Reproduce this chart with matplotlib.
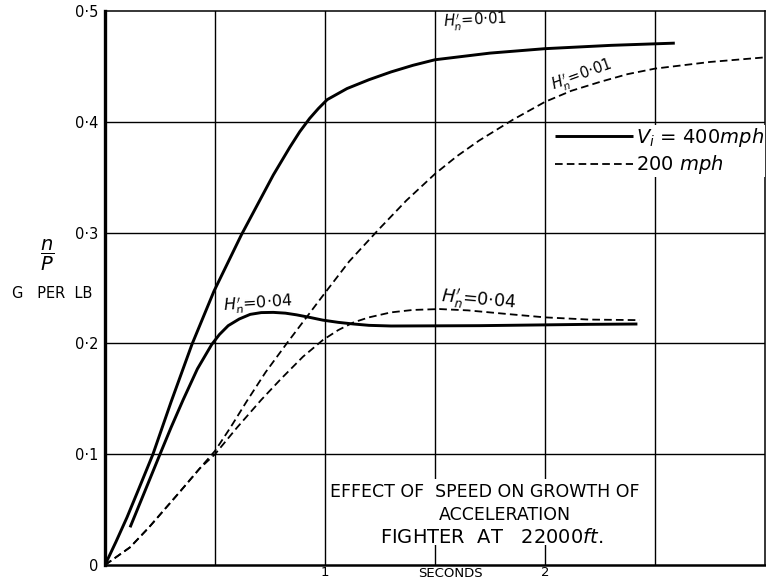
import matplotlib.pyplot as plt
from matplotlib.patches import Rectangle

plt.rcParams['font.family'] = 'DejaVu Sans'
plt.rcParams['mathtext.fontset'] = 'dejavusans'
plt.rcParams['lines.scale_dashes'] = False

# Vi = 400 mph, H'n = 0.01
t_400_01 = [0, 0.05, 0.1, 0.15, 0.218, 0.30, 0.395, 0.495, 0.62, 0.765, 0.84, 0.885, 0.93, 0.97, 1.01,
            1.1, 1.2, 1.3, 1.4, 1.5, 1.75, 2.0, 2.3, 2.59]
g_400_01 = [0, 0.021, 0.043, 0.067, 0.1, 0.147, 0.199, 0.247, 0.298, 0.352, 0.377, 0.391, 0.403, 0.412, 0.420,
            0.430, 0.438, 0.445, 0.451, 0.456, 0.462, 0.466, 0.469, 0.471]

# Vi = 400 mph, H'n = 0.04
t_400_04 = [0.114, 0.18, 0.25, 0.30, 0.355, 0.42, 0.485, 0.52, 0.56, 0.61, 0.66, 0.71, 0.765, 0.82,
            0.87, 0.93, 0.99, 1.06, 1.13, 1.2, 1.3, 1.7, 2.2, 2.42]
g_400_04 = [0.034, 0.066, 0.1, 0.124, 0.149, 0.177, 0.199, 0.208, 0.216, 0.222, 0.2262, 0.2278, 0.228, 0.2273,
            0.2258, 0.2235, 0.221, 0.219, 0.2175, 0.2163, 0.2157, 0.216, 0.2172, 0.2175]

# Vi = 200 mph, H'n = 0.01
t_200_01 = [0, 0.114, 0.2, 0.34, 0.43, 0.5, 0.57, 0.645, 0.73, 0.83, 0.91, 0.99, 1.11, 1.24, 1.37,
            1.5, 1.6, 1.7, 1.855, 2.0, 2.12, 2.25, 2.375, 2.5, 2.75, 2.99]
g_200_01 = [0, 0.016, 0.034, 0.066, 0.087, 0.103, 0.124, 0.148, 0.174, 0.201, 0.222, 0.243, 0.274, 0.302, 0.329,
            0.353, 0.369, 0.383, 0.402, 0.418, 0.428, 0.436, 0.443, 0.448, 0.454, 0.458]

# Vi = 200 mph, H'n = 0.04
t_200_04 = [0, 0.114, 0.2, 0.34, 0.43, 0.5, 0.6, 0.71, 0.8, 0.9, 0.99, 1.06, 1.13, 1.2, 1.3, 1.4,
            1.52, 1.65, 1.83, 2.0, 2.2, 2.43]
g_200_04 = [0, 0.016, 0.034, 0.066, 0.087, 0.1, 0.124, 0.149, 0.168, 0.188, 0.203, 0.212, 0.219, 0.2235, 0.228, 0.2302,
            0.231, 0.2298, 0.2265, 0.2235, 0.2215, 0.221]

y_ticks = [0, 0.1, 0.2, 0.3, 0.4, 0.5]
y_tick_labels = ['0', '0·1', '0·2', '0·3', '0·4', '0·5']
x_ticks = [1, 2]
x_tick_labels = ['1', '2']
x_grid = [0.5, 1, 1.5, 2, 2.5]
y_grid = [0.1, 0.2, 0.3, 0.4]

fig = plt.figure(figsize=(7.66, 5.86), dpi=100)
ax = fig.add_axes([105 / 766, 21 / 586, 660 / 766, 554 / 586])
ax.set_xlim(0, 3)
ax.set_ylim(0, 0.5)

for x in x_grid:
    ax.axvline(x, color='black', lw=1.0, zorder=0.5)
for y in y_grid:
    ax.axhline(y, color='black', lw=1.0, zorder=0.5)

solid = dict(color='black', lw=2.1, solid_capstyle='butt', solid_joinstyle='round', zorder=3)
dashed = dict(color='black', lw=1.3, dashes=(5.5, 3), zorder=3)
l_fast, = ax.plot(t_400_01, g_400_01, **solid)
ax.plot(t_400_04, g_400_04, **solid)
l_slow, = ax.plot(t_200_01, g_200_01, **dashed)
ax.plot(t_200_04, g_200_04, **dashed)

# curve labels
ax.text(1.68, 0.490, r"$H_n^{\prime}$=0·01", fontsize=10.5, rotation=3, ha='center', va='center')
ax.text(2.17, 0.441, r"$H_n^{\prime}$=0·01", fontsize=10.5, rotation=20, ha='center', va='center')
ax.text(0.695, 0.236, r"$H_n^{\prime}$=0·04", fontsize=11.5, rotation=4, ha='center', va='center')
ax.text(1.70, 0.239, r"$H_n^{\prime}$=0·04", fontsize=12.5, rotation=-5, ha='center', va='center')

# title block
ax.add_patch(Rectangle((1.45, 0.018), 0.9, 0.06, facecolor='white', edgecolor='none', zorder=1))
ax.text(1.727, 0.066, "EFFECT OF  SPEED ON GROWTH OF", fontsize=12.5, ha='center', va='center', zorder=4)
ax.text(1.818, 0.045, "ACCELERATION", fontsize=12.5, ha='center', va='center', zorder=4)
ax.text(1.759, 0.025, r"FIGHTER  AT   22000$\mathit{ft.}$", fontsize=14, ha='center', va='center', zorder=4)

leg = ax.legend([l_fast, l_slow], [r"$V_i$ = 400$\mathit{mph}$", r"200 $\mathit{mph}$"],
                loc='upper right', bbox_to_anchor=(1.0, 0.795), frameon=True, fancybox=False,
                edgecolor='none', facecolor='white', framealpha=1, fontsize=14,
                handlelength=4.0, handletextpad=0.15, labelspacing=0.25,
                borderpad=0.05, borderaxespad=0)

ax.set_yticks(y_ticks)
ax.set_yticklabels(y_tick_labels, fontsize=10.5)
ax.set_xticks(x_ticks)
ax.set_xticklabels(x_tick_labels, fontsize=9.5)
ax.tick_params(axis='y', length=0, pad=5)
ax.tick_params(axis='x', length=0, pad=1)

ax.spines['left'].set_linewidth(2.4)
ax.spines['bottom'].set_linewidth(1.8)
ax.spines['top'].set_linewidth(1.1)
ax.spines['right'].set_linewidth(1.1)

ax.set_xlabel("SECONDS", fontsize=9.5)
ax.xaxis.set_label_coords(0.523, -0.004)

fig.text(47 / 766, 1 - 255 / 586, r"$\dfrac{n}{P}$", fontsize=14, ha='center', va='center')
fig.text(52 / 766, 1 - 293 / 586, "G   PER  LB", fontsize=10.5, ha='center', va='center')

fig.savefig('out.png', dpi=100)
